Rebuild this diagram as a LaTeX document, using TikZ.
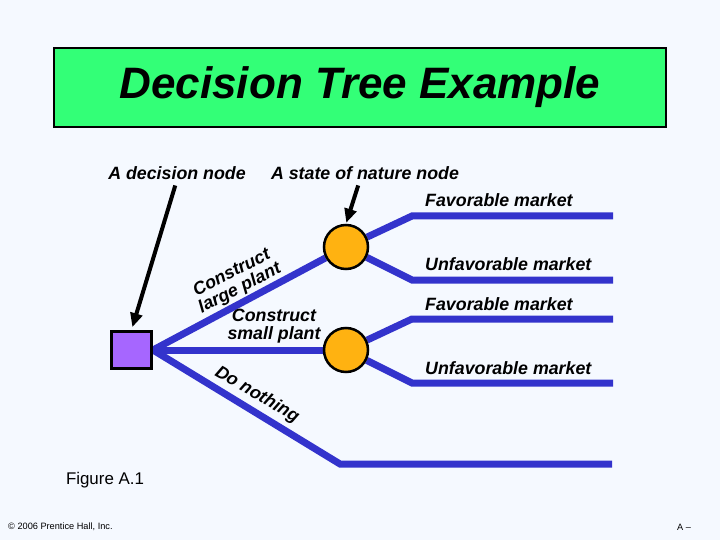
\documentclass[tikz,border=0pt]{standalone}
\usepackage{fontspec}
\setmainfont{Liberation Sans}
\usetikzlibrary{arrows.meta}
\definecolor{bgc}{RGB}{245,249,255}
\definecolor{titlegreen}{RGB}{51,255,119}
\definecolor{branch}{RGB}{51,51,204}
\definecolor{chance}{RGB}{255,178,17}
\definecolor{decision}{RGB}{166,102,255}
\pgfdeclarelayer{backdrop}
\pgfdeclarelayer{lines}
\pgfsetlayers{backdrop,lines,main}
\begin{document}
\begin{tikzpicture}[x=1pt,y=-1pt,
  lbl/.style={font=\fontsize{17.8}{17.5}\selectfont\bfseries\itshape, inner sep=0pt},
  plain/.style={font=\fontsize{16.9}{17}\selectfont, inner sep=0pt},
  tiny/.style={font=\fontsize{9.2}{10}\selectfont, inner sep=0pt},
  branchline/.style={draw=branch, line width=7pt},
  ptr/.style={draw=black, line width=4pt, -{Triangle[length=14pt,width=12pt]}},
  chancenode/.style={circle, draw=black, line width=2.5pt, fill=chance, minimum size=44pt, inner sep=0pt},
  decisionnode/.style={rectangle, draw=black, line width=3pt, fill=decision, minimum width=40pt, minimum height=37pt, inner sep=0pt},
  titlebox/.style={rectangle, draw=black, line width=1.5pt, fill=titlegreen, minimum width=612pt, minimum height=79pt, inner sep=0pt,
    font=\fontsize{44}{44}\selectfont\bfseries\itshape}
]
\begin{pgfonlayer}{backdrop}
  \fill[bgc] (0,0) rectangle (720,540);
\end{pgfonlayer}
\useasboundingbox (0,0) rectangle (720,540);

% title
\node[titlebox] (title) at (360,87.5) {Decision Tree Example};

% nodes
\node[decisionnode] (sq) at (131.5,350) {};
\node[chancenode] (c1) at (346,247) {};
\node[chancenode] (c2) at (346,350) {};

% header labels and pointers
\node[lbl] (ldn) at (177,173) {A decision node};
\node[lbl] (lsn) at (365,173) {A state of nature node};
\draw[ptr, shorten <=6pt, shorten >=3pt] (ldn.south) -- (sq.north);
\draw[ptr, shorten <=6pt, shorten >=1pt] ([xshift=-5pt]lsn.south) -- (c1.north);

% branch coordinates
\coordinate (b1) at (412,216);
\coordinate (e1) at (613,216);
\coordinate (b2) at (412,280);
\coordinate (e2) at (613,280);
\coordinate (b3) at (412,319);
\coordinate (e3) at (613,319);
\coordinate (b4) at (412,383);
\coordinate (e4) at (613,383);
\coordinate (dnb) at (340,464);
\coordinate (dne) at (612,464);

\begin{pgfonlayer}{lines}
  \draw[branchline] (sq.east) -- (c1);
  \draw[branchline] (sq.east) -- (c2);
  \draw[branchline] (sq.east) -- (dnb) -- (dne);
  \draw[branchline] (c1) -- (b1) -- (e1);
  \draw[branchline] (c1) -- (b2) -- (e2);
  \draw[branchline] (c2) -- (b3) -- (e3);
  \draw[branchline] (c2) -- (b4) -- (e4);
\end{pgfonlayer}

% branch labels
\node[lbl, align=center, rotate=27] (llarge) at (236,281) {Construct\\large plant};
\node[lbl, align=center] (lsmall) at (274,326) {Construct\\small plant};
\node[lbl, rotate=-30] (lnothing) at (257,395) {Do nothing};
\node[lbl, anchor=west] (lf1) at (425,200) {Favorable market};
\node[lbl, anchor=west] (lu1) at (425,264) {Unfavorable market};
\node[lbl, anchor=west] (lf2) at (425,304) {Favorable market};
\node[lbl, anchor=west] (lu2) at (425,368) {Unfavorable market};

% footer
\node[plain] (fig) at (105,480) {Figure A.1};
\node[tiny, anchor=west] (copy) at (8,527) {© 2006 Prentice Hall, Inc.};
\node[tiny] (pg) at (684,527) {A –};
\end{tikzpicture}
\end{document}
